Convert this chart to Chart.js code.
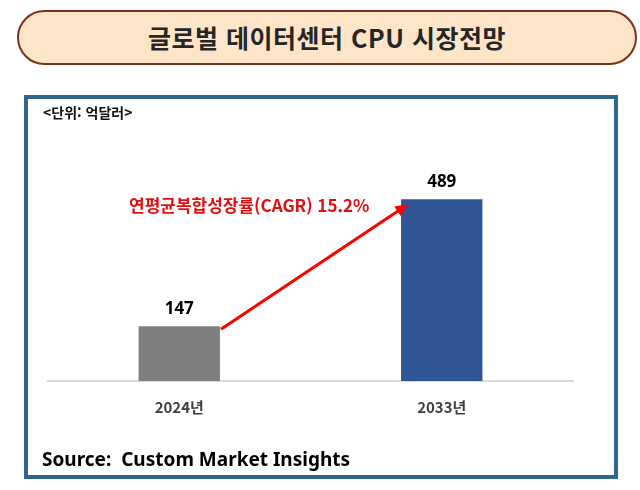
<!DOCTYPE html>
<html lang="ko">
<head>
<meta charset="utf-8">
<script src="https://cdn.jsdelivr.net/npm/chart.js@4"></script>
<style>
  html, body { margin: 0; padding: 0; background: #fff; }
  body { width: 640px; height: 490px; position: relative; overflow: hidden;
         font-family: "Noto Sans CJK KR", "Noto Sans", sans-serif; }
  .title-box { position: absolute; left: 17px; top: 10px; width: 616px; height: 51px;
               background: #fde5c9; border: 2px solid #7e2f1b; border-radius: 28px;
               box-sizing: content-box; text-align: center; line-height: 51px;
               font-size: 25px; letter-spacing: 0.5px; font-weight: bold; color: #262626; }
  .frame { position: absolute; left: 24px; top: 95px; width: 586px; height: 376px;
           border: 4px solid #31668c; background: #fff; }
  .unit { position: absolute; left: 43px; top: 102px; font-size: 14px; font-weight: bold; color: #111; }
  .cagr { position: absolute; left: 129px; top: 192px; font-size: 17px; font-weight: bold; color: #e01010; }
  .source { position: absolute; left: 42px; top: 446px; font-size: 19px; font-weight: bold; color: #000;
            font-family: "Noto Sans", "Noto Sans CJK KR", sans-serif; }
  #chart { position: absolute; left: 0; top: 0; }
</style>
</head>
<body>
<div class="title-box">글로벌 데이터센터 CPU 시장전망</div>
<div class="frame"></div>
<canvas id="chart" width="640" height="490"></canvas>
<div class="unit">&lt;단위: 억달러&gt;</div>
<div class="cagr">연평균복합성장률(CAGR) 15.2%</div>
<div class="source">Source:&nbsp;&nbsp;Custom Market Insights</div>
<script>
// 카테고리와 값 (단위: 억달러)
const years = ['2024년', '2033년'];
const marketSize = [147, 489];
const barColors = ['#7f7f7f', '#2f5597'];

// 막대 위 값 표시
const valueLabels = {
  id: 'valueLabels',
  afterDatasetsDraw(chart) {
    const ctx = chart.ctx;
    const meta = chart.getDatasetMeta(0);
    ctx.save();
    ctx.font = 'bold 17px "Noto Sans", sans-serif';
    ctx.fillStyle = '#000';
    ctx.textAlign = 'center';
    ctx.textBaseline = 'bottom';
    meta.data.forEach((bar, i) => {
      ctx.fillText(marketSize[i], bar.x, bar.y - 9);
    });
    ctx.restore();
  }
};

// 성장 화살표
const growthArrow = {
  id: 'growthArrow',
  afterDatasetsDraw(chart) {
    const ctx = chart.ctx;
    const bars = chart.getDatasetMeta(0).data;
    const a = bars[0], b = bars[1];
    const x1 = a.x + a.width / 2 + 1, y1 = a.y + 3;
    const x2 = b.x - b.width / 2 + 7, y2 = b.y + 5;
    const ang = Math.atan2(y2 - y1, x2 - x1);
    const head = 14;
    ctx.save();
    ctx.strokeStyle = '#ff0000';
    ctx.fillStyle = '#ff0000';
    ctx.lineWidth = 3;
    ctx.beginPath();
    ctx.moveTo(x1, y1);
    ctx.lineTo(x2 - head * 0.8 * Math.cos(ang), y2 - head * 0.8 * Math.sin(ang));
    ctx.stroke();
    ctx.beginPath();
    ctx.moveTo(x2, y2);
    ctx.lineTo(x2 - head * Math.cos(ang - 0.42), y2 - head * Math.sin(ang - 0.42));
    ctx.lineTo(x2 - head * Math.cos(ang + 0.42), y2 - head * Math.sin(ang + 0.42));
    ctx.closePath();
    ctx.fill();
    ctx.restore();
  }
};

new Chart(document.getElementById('chart'), {
  type: 'bar',
  data: {
    labels: years,
    datasets: [{
      data: marketSize,
      backgroundColor: barColors,
      categoryPercentage: 1,
      barPercentage: 0.31
    }]
  },
  options: {
    responsive: false,
    animation: false,
    events: [],
    layout: { padding: { left: 48, right: 67, top: 158, bottom: 69 } },
    plugins: { legend: { display: false }, tooltip: { enabled: false } },
    scales: {
      y: { display: false, min: 0, max: 600 },
      x: {
        grid: { display: false, drawTicks: false },
        border: { display: true, color: '#d9d9d9', width: 2 },
        ticks: {
          padding: 17,
          color: '#404040',
          font: { family: '"Noto Sans CJK KR", sans-serif', size: 15, weight: 'bold' }
        },
        afterFit(scale) { scale.height = 40; }
      }
    }
  },
  plugins: [valueLabels, growthArrow]
});
</script>
</body>
</html>
